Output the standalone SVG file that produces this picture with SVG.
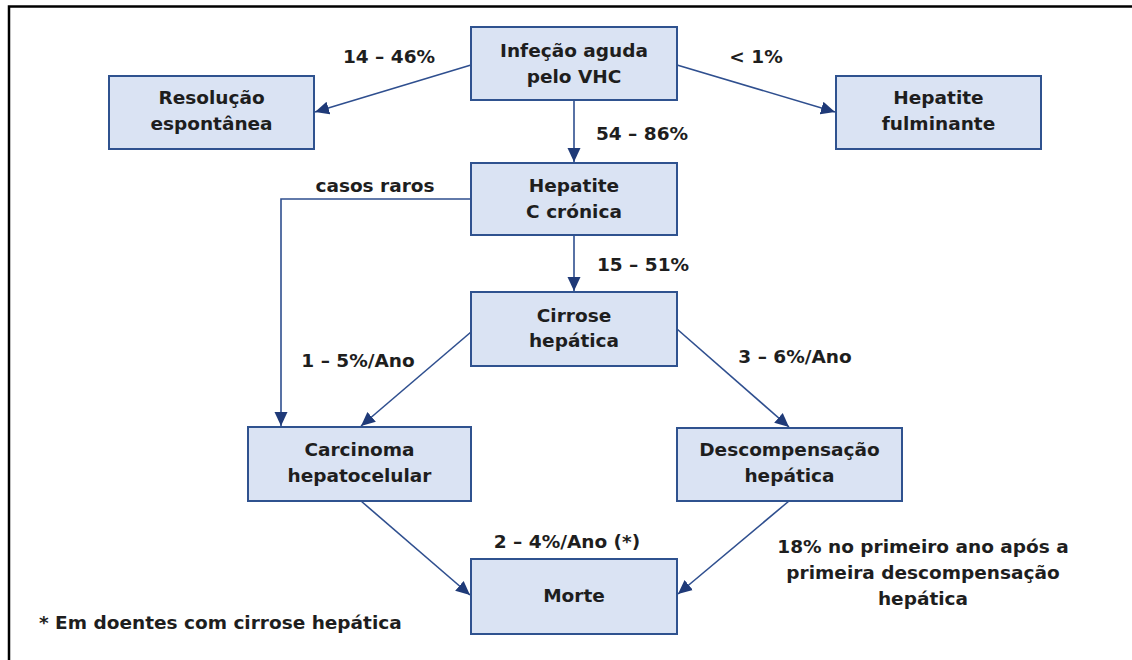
<svg xmlns="http://www.w3.org/2000/svg" width="1132" height="660" viewBox="0 0 1132 660">
<style>
.box{fill:#DAE3F3;stroke:#2F528F;stroke-width:2}
.t{font-family:"DejaVu Sans","Liberation Sans",sans-serif;font-weight:bold;font-size:18.5px;fill:#1E1E1E;text-anchor:middle}
.lbl{font-family:"DejaVu Sans","Liberation Sans",sans-serif;font-weight:bold;font-size:18.5px;fill:#1E1E1E;text-anchor:middle}
.c{fill:none;stroke:#2F4F8F;stroke-width:1.6;marker-end:url(#ah)}
.frame{fill:none;stroke:#000;stroke-width:2.5}
</style>
<defs>
<marker id="ah" markerUnits="userSpaceOnUse" viewBox="0 0 15 15" markerWidth="15" markerHeight="15" refX="14" refY="7.5" orient="auto">
<path d="M0,1 L14,7.5 L0,14 Z" fill="#1F3A78"/>
</marker>
</defs>
<rect width="1132" height="660" fill="#fff"/>
<path class="frame" d="M9,660 L9,6.5 L1132,6.5"/>

<g id="connectors">
<path class="c" d="M471,65 L315,112"/>
<path class="c" d="M677,65 L835,112"/>
<path class="c" d="M574,100 L574,162"/>
<path class="c" d="M471,199 L281,199 L281,426"/>
<path class="c" d="M574,235 L574,291"/>
<path class="c" d="M471,332 L361,426"/>
<path class="c" d="M677,329 L789,427"/>
<path class="c" d="M361,501 L470,595"/>
<path class="c" d="M789,501 L678,594"/>
</g>

<g id="infecao">
<rect class="box" x="471" y="27" width="206" height="73"/>
<text class="t" x="574" y="57">Infeção aguda</text>
<text class="t" x="574" y="83">pelo VHC</text>
</g>
<g id="resolucao">
<rect class="box" x="109" y="76" width="205" height="73"/>
<text class="t" x="211.5" y="104">Resolução</text>
<text class="t" x="211.5" y="130">espontânea</text>
</g>
<g id="fulminante">
<rect class="box" x="836" y="76" width="205" height="73"/>
<text class="t" x="938.5" y="104">Hepatite</text>
<text class="t" x="938.5" y="130">fulminante</text>
</g>
<g id="cronica">
<rect class="box" x="471" y="163" width="206" height="72"/>
<text class="t" x="574" y="192">Hepatite</text>
<text class="t" x="574" y="218">C crónica</text>
</g>
<g id="cirrose">
<rect class="box" x="471" y="292" width="206" height="74"/>
<text class="t" x="574" y="322">Cirrose</text>
<text class="t" x="574" y="347">hepática</text>
</g>
<g id="carcinoma">
<rect class="box" x="248" y="427" width="223" height="74"/>
<text class="t" x="359.5" y="456">Carcinoma</text>
<text class="t" x="359.5" y="482">hepatocelular</text>
</g>
<g id="descompensacao">
<rect class="box" x="677" y="428" width="225" height="73"/>
<text class="t" x="789.5" y="456">Descompensação</text>
<text class="t" x="789.5" y="482">hepática</text>
</g>
<g id="morte">
<rect class="box" x="471" y="559" width="206" height="75"/>
<text class="t" x="574" y="602">Morte</text>
</g>

<g id="labels">
<text class="lbl" x="389" y="63">14 – 46%</text>
<text class="lbl" x="756" y="63">&lt; 1%</text>
<text class="lbl" x="642" y="140">54 – 86%</text>
<text class="lbl" x="375" y="192">casos raros</text>
<text class="lbl" x="643" y="271">15 – 51%</text>
<text class="lbl" x="358" y="367">1 – 5%/Ano</text>
<text class="lbl" x="795" y="363">3 – 6%/Ano</text>
<text class="lbl" x="567" y="548">2 – 4%/Ano (*)</text>
<text class="lbl" x="923" y="553">18% no primeiro ano após a</text>
<text class="lbl" x="923" y="579">primeira descompensação</text>
<text class="lbl" x="923" y="605">hepática</text>
<text class="lbl" x="39" y="629" style="text-anchor:start">* Em doentes com cirrose hepática</text>
</g>
</svg>
